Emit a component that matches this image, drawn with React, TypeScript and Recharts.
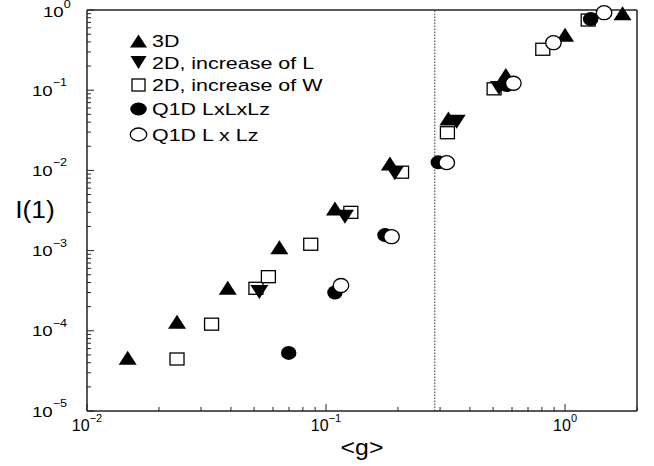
import { ScatterChart, Scatter, XAxis, YAxis, ReferenceLine } from "recharts";

const FONT = "Arial, 'Liberation Sans', Helvetica, sans-serif";

// layout of the plot box (px)
const PLOT_LEFT = 87;
const PLOT_BOTTOM = 411;

// tick values
const xMajor = [0.01, 0.1, 1];
const yMajor = [1e-5, 1e-4, 1e-3, 1e-2, 1e-1, 1];
const minorSteps = [2, 3, 4, 5, 6, 7, 8, 9];
const xTicks = xMajor
  .flatMap((m) => [m, ...minorSteps.map((k) => k * m)])
  .filter((v) => v <= 2.0001);
const yTicks = [
  ...yMajor.slice(0, -1).flatMap((m) => [m, ...minorSteps.map((k) => k * m)]),
  1,
];

// vertical dotted marker
const gCritical = 0.285;

// 3D
const g3D = [0.0148, 0.0238, 0.0388, 0.0638, 0.109, 0.185, 0.325, 0.565, 1.0, 1.74];
const i3D = [4.6e-5, 1.3e-4, 3.45e-4, 1.1e-3, 3.35e-3, 1.22e-2, 4.45e-2, 0.155, 0.49, 0.91];

// 2D, increase of L
const g2DL = [0.0526, 0.12, 0.194, 0.352, 0.529];
const i2DL = [3.05e-4, 2.65e-3, 9.2e-3, 0.0405, 0.1065];

// 2D, increase of W
const g2DW = [0.0238, 0.0332, 0.0509, 0.0574, 0.0863, 0.127, 0.207, 0.322, 0.505, 0.807, 1.25];
const i2DW = [4.45e-5, 1.21e-4, 3.39e-4, 4.73e-4, 1.2e-3, 3.0e-3, 9.5e-3, 0.0295, 0.104, 0.324, 0.75];

// Q1D LxLxLz
const gQ1 = [0.0698, 0.109, 0.1765, 0.295, 0.57, 1.28];
const iQ1 = [5.3e-5, 3.0e-4, 1.56e-3, 0.0126, 0.116, 0.77];

// Q1D L x Lz
const gQ2 = [0.1155, 0.188, 0.32, 0.608, 0.894, 1.456];
const iQ2 = [3.67e-4, 1.49e-3, 0.0125, 0.122, 0.391, 0.925];

const toPoints = (g: number[], v: number[]) => g.map((x, k) => ({ g: x, i: v[k] }));

type Kind = "up" | "down" | "square" | "dot" | "ring";

function Marker({ kind, cx, cy, w = 18, h = 14 }: { kind: Kind; cx: number; cy: number; w?: number; h?: number }) {
  const hw = w / 2;
  const hh = h / 2;
  switch (kind) {
    case "up":
      return <polygon points={`${cx - hw},${cy + hh} ${cx + hw},${cy + hh} ${cx},${cy - hh}`} fill="#000" />;
    case "down":
      return <polygon points={`${cx - hw},${cy - hh} ${cx + hw},${cy - hh} ${cx},${cy + hh}`} fill="#000" />;
    case "square":
      return <rect x={cx - hw} y={cy - hh} width={w} height={h} fill="#fff" stroke="#000" strokeWidth={1.3} />;
    case "dot":
      return <ellipse cx={cx} cy={cy} rx={hw} ry={hh} fill="#000" />;
    default:
      return <ellipse cx={cx} cy={cy} rx={hw} ry={hh} fill="#fff" stroke="#000" strokeWidth={1.3} />;
  }
}

const SIZE: Record<Kind, [number, number]> = {
  up: [18, 14],
  down: [18, 14],
  square: [14, 12],
  dot: [15.5, 14],
  ring: [15.5, 14],
};

const shapeOf = (kind: Kind) => (p: any) =>
  <Marker kind={kind} cx={p.cx} cy={p.cy} w={SIZE[kind][0]} h={SIZE[kind][1]} />;

const expLabel = (e: number) => (e < 0 ? `\u2212${-e}` : `${e}`);

function XTick(props: any) {
  const { x, payload } = props;
  const lg = Math.log10(payload.value);
  const e = Math.round(lg);
  const major = Math.abs(lg - e) < 1e-6;
  return (
    <g>
      <line x1={x} x2={x} y1={PLOT_BOTTOM} y2={PLOT_BOTTOM - (major ? 7 : 4)} stroke="#222" strokeWidth={1} />
      {major && (
        <text x={x} y={431} textAnchor="middle" fontFamily={FONT} fontSize={16} fill="#000">
          10
          <tspan dy={-9} fontSize={11}>
            {expLabel(e)}
          </tspan>
        </text>
      )}
    </g>
  );
}

function YTick(props: any) {
  const { y, payload } = props;
  const lg = Math.log10(payload.value);
  const e = Math.round(lg);
  const major = Math.abs(lg - e) < 1e-6;
  // the top label sits against the page edge, so tuck its exponent in a little
  const base = e === 0 ? 6.5 : 5.5;
  const lift = e === 0 ? -8.5 : -9.5;
  return (
    <g>
      <line x1={PLOT_LEFT} x2={PLOT_LEFT + (major ? 7 : 4)} y1={y} y2={y} stroke="#222" strokeWidth={1} />
      {major && (
        <g transform={`translate(${e === 0 ? 43 : 32},${y + base}) scale(1.2,1)`}>
          <text x={0} y={0} fontFamily={FONT} fontSize={15.5} fill="#000">
            10
            <tspan dy={lift} fontSize={10.5}>
              {expLabel(e)}
            </tspan>
          </text>
        </g>
      )}
    </g>
  );
}

const legendItems: { name: string; kind: Kind; y: number }[] = [
  { name: "3D", kind: "up", y: 41 },
  { name: "2D, increase of L", kind: "down", y: 62.5 },
  { name: "2D, increase of W", kind: "square", y: 85 },
  { name: "Q1D LxLxLz", kind: "dot", y: 109 },
  { name: "Q1D L x Lz", kind: "ring", y: 134.5 },
];

const legendMarkerSize: Record<Kind, [number, number]> = {
  up: [17, 13],
  down: [16, 13],
  square: [13, 12],
  dot: [16.5, 13],
  ring: [16.5, 13],
};

function LegendOverlay() {
  return (
    <svg width={654} height={466} style={{ position: "absolute", left: 0, top: 0, pointerEvents: "none" }}>
      {legendItems.map((it) => (
        <g key={it.name}>
          <Marker kind={it.kind} cx={138.5} cy={it.y} w={legendMarkerSize[it.kind][0]} h={legendMarkerSize[it.kind][1]} />
          <g transform={`translate(152,${it.y + 6}) scale(1.3,1)`}>
            <text x={0} y={0} fontFamily={FONT} fontSize={16.5} fill="#000">
              {it.name}
            </text>
          </g>
        </g>
      ))}
      <g transform="translate(35,218) scale(1.1,1)">
        <text x={0} y={0} textAnchor="middle" fontFamily={FONT} fontSize={24} fill="#000">
          I(1)
        </text>
      </g>
      <g transform="translate(362,455) scale(1.13,1)">
        <text x={0} y={0} textAnchor="middle" fontFamily={FONT} fontSize={22} fill="#000">
          {"<g>"}
        </text>
      </g>
    </svg>
  );
}

export default function App() {
  return (
    <div style={{ position: "absolute", left: 0, top: 0, width: 654, height: 466, background: "#fff" }}>
      <ScatterChart width={654} height={466} margin={{ top: 10, right: 17, left: 27, bottom: 25 }}>
        <XAxis
          type="number"
          dataKey="g"
          scale="log"
          domain={[0.01, 2]}
          ticks={xTicks}
          interval={0}
          tickLine={false}
          tick={(p: any) => <XTick {...p} />}
          axisLine={{ stroke: "#222", strokeWidth: 1.5 }}
          height={30}
        />
        <YAxis
          type="number"
          dataKey="i"
          scale="log"
          domain={[1e-5, 1]}
          ticks={yTicks}
          interval={0}
          tickLine={false}
          tick={(p: any) => <YTick {...p} />}
          axisLine={{ stroke: "#222", strokeWidth: 1.5 }}
          width={60}
        />
        <ReferenceLine y={1} stroke="#222" strokeWidth={1.5} ifOverflow="visible" />
        <ReferenceLine x={2} stroke="#222" strokeWidth={1.5} ifOverflow="visible" />
        <ReferenceLine x={gCritical} stroke="#555" strokeWidth={1.2} strokeDasharray="1.5 1.5" ifOverflow="visible" />
        <Scatter name="2D, increase of W" data={toPoints(g2DW, i2DW)} shape={shapeOf("square")} isAnimationActive={false} />
        <Scatter name="2D, increase of L" data={toPoints(g2DL, i2DL)} shape={shapeOf("down")} isAnimationActive={false} />
        <Scatter name="3D" data={toPoints(g3D, i3D)} shape={shapeOf("up")} isAnimationActive={false} />
        <Scatter name="Q1D LxLxLz" data={toPoints(gQ1, iQ1)} shape={shapeOf("dot")} isAnimationActive={false} />
        <Scatter name="Q1D L x Lz" data={toPoints(gQ2, iQ2)} shape={shapeOf("ring")} isAnimationActive={false} />
      </ScatterChart>
      <LegendOverlay />
    </div>
  );
}
